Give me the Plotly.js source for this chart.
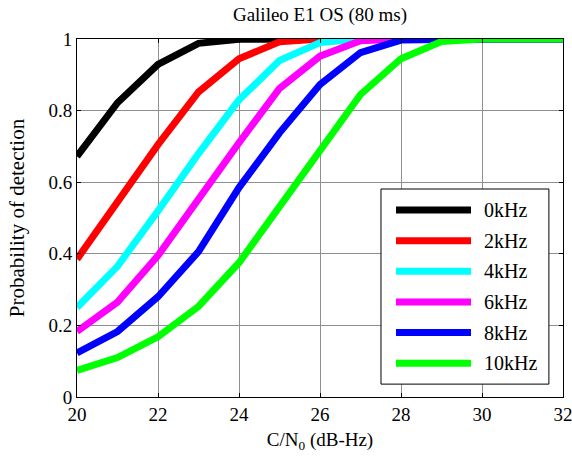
<!DOCTYPE html>
<html>
<head>
<meta charset="utf-8">
<script src="https://cdn.plot.ly/plotly-3.0.1.min.js"></script>
<style>
html,body{margin:0;padding:0;background:#fff;}
#chart{width:572px;height:462px;}
</style>
</head>
<body>
<div id="chart"></div>
<script>
var cn0 = [20,21,22,23,24,25,26,27,28,29,30,31,32];
var seriesNames = ["0kHz","2kHz","4kHz","6kHz","8kHz","10kHz"];
var seriesColors = ["#000000","#ff0000","#00ffff","#ff00ff","#0000ff","#00ff00"];
var pd0  = [0.672,0.822,0.929,0.988,0.999,1,1,1,1,1,1,1,1];
var pd2  = [0.385,0.542,0.705,0.852,0.945,0.992,1,1,1,1,1,1,1];
var pd4  = [0.25,0.365,0.52,0.68,0.83,0.94,0.99,1,1,1,1,1,1];
var pd6  = [0.183,0.265,0.395,0.555,0.71,0.862,0.952,0.995,1,1,1,1,1];
var pd8  = [0.123,0.183,0.28,0.406,0.585,0.738,0.873,0.962,0.997,1,1,1,1];
var pd10 = [0.074,0.11,0.168,0.253,0.375,0.53,0.69,0.845,0.945,0.993,1,1,1];
var xTicks = [20,22,24,26,28,30,32];
var yTicks = [0,0.2,0.4,0.6,0.8,1];
var yTickText = ["0","0.2","0.4","0.6","0.8","1"];

var allSeries = [pd0,pd2,pd4,pd6,pd8,pd10];
var FONT = 'Liberation Serif, Times New Roman, serif';

var traces = allSeries.map(function(v,i){
  return {x: cn0, y: v, type:'scatter', mode:'lines', name: seriesNames[i],
          line:{color: seriesColors[i], width:7}, showlegend:false, hoverinfo:'skip'};
});

// manual legend (layout decoration)
var shapes = [];
var annotations = [];
var lx0 = 0.6255, lx1 = 0.971, ly0 = 0.036, ly1 = 0.581;
shapes.push({type:'rect', xref:'paper', yref:'paper', x0:lx0, x1:lx1, y0:ly0, y1:ly1,
  line:{color:'#000', width:1}, fillcolor:'#fff', layer:'above'});
seriesNames.forEach(function(n,i){
  var yy = 0.522 - i*0.0855;
  shapes.push({type:'line', xref:'paper', yref:'paper', x0:0.6564, x1:0.8107, y0:yy, y1:yy,
    line:{color:seriesColors[i], width:7}, layer:'above'});
  annotations.push({xref:'paper', yref:'paper', x:0.833, y:yy, xanchor:'left', yanchor:'middle',
    text:n, showarrow:false, font:{family:FONT, size:20, color:'#000'}});
});

var layout = {
  width:572, height:462,
  margin:{l:77, r:9, t:39, b:65, pad:0},
  paper_bgcolor:'#fff', plot_bgcolor:'#fff',
  font:{family:FONT, size:19, color:'#000'},
  title:{text:'Galileo E1 OS (80 ms)', x:0.5, xref:'paper', xanchor:'center',
         y:0.968, yref:'container', yanchor:'middle', font:{family:FONT, size:19, color:'#000'}},
  xaxis:{range:[20,32], tickvals:xTicks, ticks:'inside', ticklen:4, tickcolor:'#000',
         showline:true, linecolor:'#000', linewidth:1, mirror:'ticks',
         showgrid:true, gridcolor:'#8f8f8f', gridwidth:1, zeroline:false,
         ticklabeloverflow:'allow',
         tickfont:{family:FONT, size:19},
         title:{text:'C/N<sub>0</sub> (dB-Hz)', font:{family:FONT, size:19}, standoff:8}},
  yaxis:{range:[0,1], tickvals:yTicks, ticktext:yTickText, ticks:'inside', ticklen:4, tickcolor:'#000',
         showline:true, linecolor:'#000', linewidth:1, mirror:'ticks',
         showgrid:true, gridcolor:'#8f8f8f', gridwidth:1, zeroline:false,
         ticklabeloverflow:'allow',
         tickfont:{family:FONT, size:19},
         title:{text:'Probability of detection', font:{family:FONT, size:21}, standoff:18}},
  shapes: shapes,
  annotations: annotations,
  showlegend:false
};

Plotly.newPlot('chart', traces, layout, {displayModeBar:false, staticPlot:true});
</script>
</body>
</html>
